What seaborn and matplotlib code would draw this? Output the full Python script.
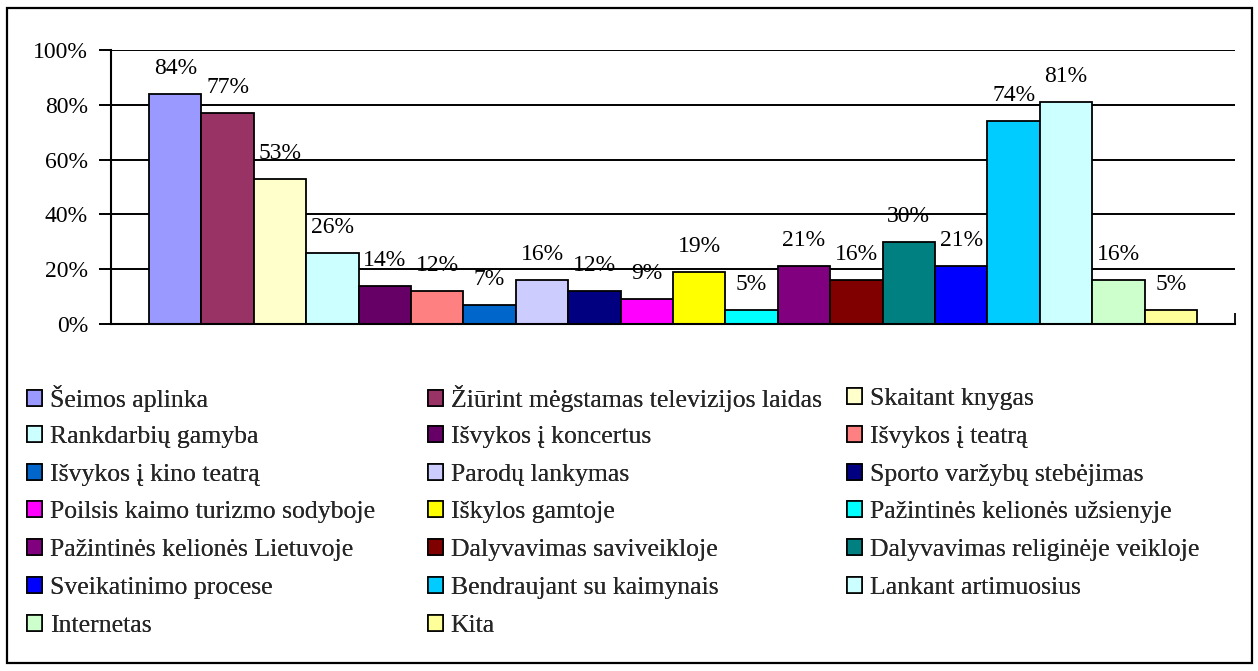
import matplotlib
matplotlib.use("Agg")
import matplotlib.pyplot as plt
import seaborn as sns
import pandas as pd
from matplotlib.patches import Patch, Rectangle

categories = [
    "Šeimos aplinka",
    "Žiūrint mėgstamas televizijos laidas",
    "Skaitant knygas",
    "Rankdarbių gamyba",
    "Išvykos į koncertus",
    "Išvykos į teatrą",
    "Išvykos į kino teatrą",
    "Parodų lankymas",
    "Sporto varžybų stebėjimas",
    "Poilsis kaimo turizmo sodyboje",
    "Iškylos gamtoje",
    "Pažintinės kelionės užsienyje",
    "Pažintinės kelionės Lietuvoje",
    "Dalyvavimas saviveikloje",
    "Dalyvavimas religinėje veikloje",
    "Sveikatinimo procese",
    "Bendraujant su kaimynais",
    "Lankant artimuosius",
    "Internetas",
    "Kita",
]
values = [84, 77, 53, 26, 14, 12, 7, 16, 12, 9, 19, 5, 21, 16, 30, 21, 74, 81, 16, 5]
colors = [
    "#9999FF", "#993366", "#FFFFCC", "#CCFFFF", "#660066",
    "#FF8080", "#0066CC", "#CCCCFF", "#000080", "#FF00FF",
    "#FFFF00", "#00FFFF", "#800080", "#800000", "#008080",
    "#0000FF", "#00CCFF", "#CCFFFF", "#CCFFCC", "#FFFF99",
]
yticks = [0, 20, 40, 60, 80, 100]
ytick_labels = ["0%", "20%", "40%", "60%", "80%", "100%"]

sns.set_theme(style="white")
plt.rcParams["font.family"] = ["Liberation Serif", "DejaVu Serif"]

W, H = 1258, 671
fig = plt.figure(figsize=(W / 100, H / 100), dpi=100)
fig.patch.set_facecolor("white")

# outer frame
fig.add_artist(Rectangle((7 / W, 8 / H), (1252 - 7) / W, (663 - 8) / H,
                         transform=fig.transFigure, fill=False,
                         edgecolor="black", linewidth=1.6))

ax_l, ax_r, ax_t, ax_b = 111, 1235, 50, 324
ax = fig.add_axes([ax_l / W, 1 - ax_b / H, (ax_r - ax_l) / W, (ax_b - ax_t) / H])
df = pd.DataFrame({"cat": categories, "val": values})
sns.barplot(data=df, x="cat", y="val", hue="cat", palette=colors,
            order=categories, hue_order=categories, dodge=False,
            saturation=1, width=1.0, edgecolor="black", linewidth=1.3,
            legend=False, ax=ax)

bw = (1197 - 149) / 20
gap = (149 - ax_l) / bw
ax.set_xlim(-0.5 - gap, 19.5 + gap)
ax.set_ylim(0, 100)
ax.set_yticks(yticks)
ax.set_yticklabels(ytick_labels, fontsize=17)
ax.set_xticks([ax.get_xlim()[1]])
ax.set_xticklabels([""])
ax.tick_params(axis="x", direction="in", length=8, width=1.3, color="black",
               bottom=True)
ax.set_xlabel("")
ax.set_ylabel("")
ax.set_facecolor("none")
for g in yticks[1:]:
    ax.axhline(g, color="black", linewidth=1.4, zorder=0)
for s in ["top", "right"]:
    ax.spines[s].set_visible(False)
ax.spines["left"].set_color("black")
ax.spines["left"].set_linewidth(1.5)
ax.spines["bottom"].set_color("black")
ax.spines["bottom"].set_linewidth(1.5)
ax.tick_params(axis="y", direction="out", length=9, width=1.4, color="black",
               pad=7.5, left=True, labelcolor="black")

for i, v in enumerate(values):
    ax.text(i, v + 9.3, f"{v:.0f}%", ha="center", va="center", fontsize=17,
            color="black")

# legend: row-major order across 3 columns, one entry per cell
handles = [Patch(facecolor=c, edgecolor="black", linewidth=1.2) for c in colors]
col_x = [27, 428, 847]
row_y0, row_dy = 399, 37.8
for i, (h, lab) in enumerate(zip(handles, categories)):
    r, c = divmod(i, 3)
    leg = fig.legend([h], [lab], loc="center left",
                     bbox_to_anchor=(col_x[c] / W, 1 - (row_y0 + r * row_dy) / H),
                     frameon=False, fontsize=18.5,
                     handlelength=0.58, handleheight=0.58, handletextpad=0.3,
                     borderaxespad=0, borderpad=0)
    fig.add_artist(leg)

fig.savefig("out.png", dpi=100, facecolor="white")
